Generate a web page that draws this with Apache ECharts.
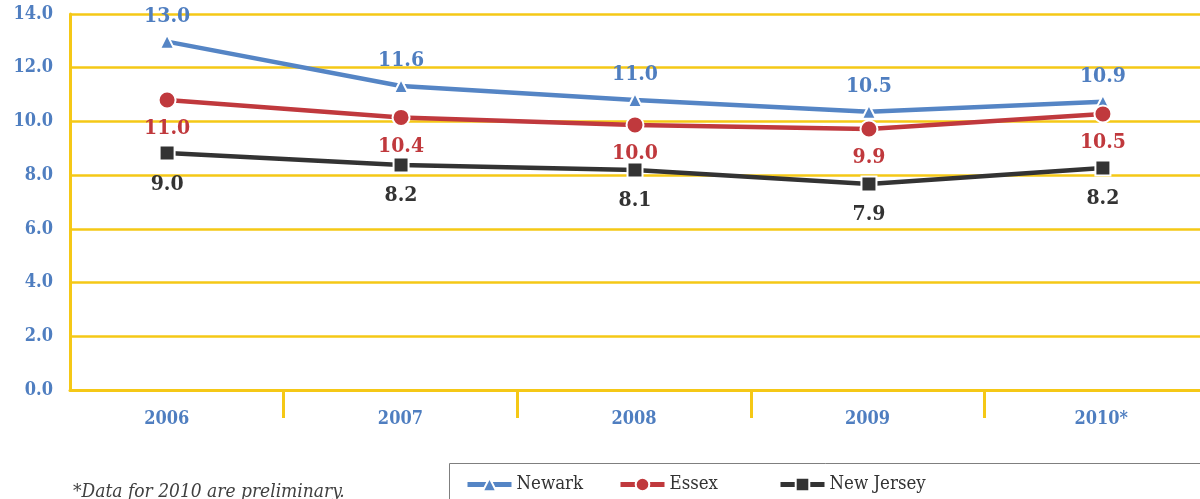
<!DOCTYPE html>
<html>
<head>
<meta charset="utf-8">
<script src="https://cdn.jsdelivr.net/npm/echarts@6/dist/echarts.min.js"></script>
<style>html,body{margin:0;padding:0;background:#fff;}#c{width:1200px;height:499px;}</style>
</head>
<body>
<div id="c"></div>
<script>
// Data
var categories = ['2006', '2007', '2008', '2009', '2010*'];
var seriesNames = ['Newark', 'Essex', 'New Jersey'];
// plotted positions (as drawn in the reference)
var newarkValues = [12.97, 11.32, 10.80, 10.36, 10.73];
var essexValues = [10.80, 10.15, 9.87, 9.72, 10.28];
var njValues = [8.82, 8.38, 8.19, 7.67, 8.27];
// printed labels
var newarkLabels = ['13.0', '11.6', '11.0', '10.5', '10.9'];
var essexLabels = ['11.0', '10.4', '10.0', '9.9', '10.5'];
var njLabels = ['9.0', '8.2', '8.1', '7.9', '8.2'];
var footnote = '*Data for 2010 are preliminary.';

var FONT = '"DejaVu Serif Condensed", "DejaVu Serif", serif';
var GOLD = '#F5C816';
var BLUE = '#5585C5';
var BLUE_T = '#4F7EC0';
var RED = '#C0393D';
var DARK = '#333333';

function pairs(vals) { return vals.map(function (v, i) { return [i, v]; }); }

function mkSeries(name, vals, labels, color, textColor, symbol, size, pos, dist) {
  return {
    name: name, type: 'line', xAxisIndex: 0, yAxisIndex: 0,
    data: pairs(vals),
    symbol: symbol, symbolSize: size,
    lineStyle: { color: color, width: 4.5 },
    itemStyle: { color: color, borderColor: '#fff', borderWidth: 2 },
    label: {
      show: true, position: pos, distance: dist,
      formatter: function (p) { return labels[p.dataIndex]; },
      color: textColor, fontFamily: FONT, fontWeight: 'bold', fontSize: 21
    },
    emphasis: { disabled: true },
    animation: false
  };
}

function mkLegend(name, left) {
  return {
    data: [name], left: left, top: 470, itemWidth: 44, itemHeight: 17, itemGap: 6,
    lineStyle: { width: 5 },
    textStyle: { fontFamily: FONT, fontSize: 18.5, color: DARK }
  };
}

var chart = echarts.init(document.getElementById('c'), null, { renderer: 'canvas' });
chart.setOption({
  animation: false,
  grid: [
    { left: 70, right: 0, top: 14, height: 376, outerBoundsMode: 'none' },
    { left: 50, width: 1168, top: 14, height: 376, outerBoundsMode: 'none' }
  ],
  xAxis: [
    { type: 'value', gridIndex: 0, min: -0.415, max: 4.415,
      axisLine: { show: true, onZero: false, lineStyle: { color: GOLD, width: 3 } },
      axisTick: { show: false }, axisLabel: { show: false }, splitLine: { show: false } },
    { type: 'category', gridIndex: 1, data: categories, boundaryGap: true,
      axisLine: { show: false },
      axisTick: { show: true, length: 28, lineStyle: { color: GOLD, width: 3 },
        interval: function (idx) { return idx !== 0; } },
      axisLabel: { color: BLUE_T, fontFamily: FONT, fontWeight: 'bold', fontSize: 18, margin: 20 } }
  ],
  yAxis: [
    { type: 'value', gridIndex: 0, min: 0, max: 14, interval: 2,
      axisLine: { show: true, onZero: false, lineStyle: { color: GOLD, width: 3 } },
      axisTick: { show: false },
      splitLine: { show: true, lineStyle: { color: GOLD, width: 2.5 } },
      axisLabel: { color: BLUE_T, fontFamily: FONT, fontWeight: 'bold', fontSize: 18, margin: 17,
        formatter: function (v) { return v.toFixed(1); } } },
    { type: 'value', gridIndex: 1, min: 0, max: 14, show: false }
  ],
  legend: [
    mkLegend(seriesNames[0], 460),
    mkLegend(seriesNames[1], 613),
    mkLegend(seriesNames[2], 773)
  ],
  graphic: [
    { type: 'rect', left: 447, top: 461, shape: { x: 0, y: 0, width: 800, height: 60 },
      style: { fill: 'none', stroke: '#7F7F7F', lineWidth: 1 }, silent: true },
    { type: 'text', left: 73, top: 483,
      style: { text: footnote, font: 'italic 19px ' + FONT, fill: '#404040' } }
  ],
  series: [
    mkSeries(seriesNames[0], newarkValues, newarkLabels, BLUE, BLUE_T, 'triangle', 14, 'top', 7),
    mkSeries(seriesNames[1], essexValues, essexLabels, RED, RED, 'circle', 17, 'bottom', 9),
    mkSeries(seriesNames[2], njValues, njLabels, DARK, DARK, 'rect', 15, 'bottom', 12)
  ]
});
</script>
</body>
</html>
